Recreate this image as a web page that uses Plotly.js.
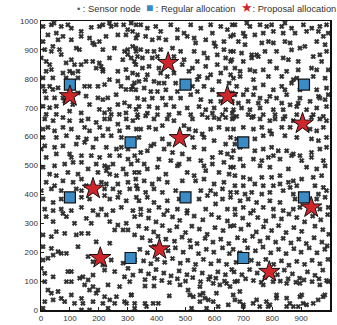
<!DOCTYPE html>
<html><head><meta charset="utf-8">
<script src="https://cdn.plot.ly/plotly-3.0.1.min.js"></script>
<style>html,body{margin:0;padding:0;background:#fff}#c{width:337px;height:325px}</style>
</head><body><div id="c"></div>
<script>
const tickVals = [0,100,200,300,400,500,600,700,800,900,1000];
const tickText = ["0","100","200","300","400","500","600","700","800","900","1000"];

const regularX = [100,500,910,310,700,100,500,910,310,700];
const regularY = [780,780,780,580,580,390,390,390,180,180];

const proposalX = [100,440,645,905,480,180,935,410,205,790];
const proposalY = [740,855,740,645,595,420,355,210,180,132];

const sensorNodes = [
[7,981],[36,987],[45,993],[70,981],[93,987],[105,975],[139,964],[174,978],[202,981],[214,987],[237,993],[243,981],[260,987],[286,987],[300,970],[312,993],[329,987],
[24,952],[53,958],[76,947],[59,935],[7,929],[105,935],[139,947],[168,941],[179,924],[202,929],[225,947],[266,952],[294,952],[317,964],[329,941],
[13,901],[41,912],[36,895],[64,901],[122,906],[133,901],[185,918],[214,901],[254,906],[289,895],[300,901],[317,912],[329,895],
[1,872],[18,860],[30,849],[36,832],[70,884],[87,855],[105,866],[116,849],[139,849],[156,860],[179,860],[202,855],[208,843],[214,832],[237,872],[283,866],[300,884],[312,872],[323,860],
[18,826],[76,820],[99,826],[110,820],[128,826],[191,837],[214,826],[266,826],[294,832],[317,820],
[7,803],[41,803],[87,803],[128,803],[237,797],[266,792],[300,803],[323,786],
[7,774],[30,774],[41,763],[59,769],[151,774],[168,774],[197,774],[220,780],[277,774],[317,774],
[13,757],[18,734],[47,734],[76,734],[128,751],[156,740],[197,734],[214,728],[231,734],[260,745],[294,763],[312,763],
[7,705],[30,700],[53,705],[82,723],[110,711],[168,711],[202,694],[237,694],[266,711],[289,717],[306,705],[329,694],
[18,677],[53,677],[99,688],[139,682],[220,682],[243,677],[271,677],[294,682],
[345,987],[368,975],[397,981],[414,964],[449,987],[472,970],[495,958],[518,987],[553,975],[587,987],[593,958],[622,981],[645,970],[662,987],
[334,952],[362,947],[385,935],[408,941],[432,935],[472,941],[506,947],[530,941],[535,924],[570,935],[599,924],[633,929],[656,947],
[328,906],[345,901],[368,895],[391,895],[414,901],[455,906],[483,895],[530,895],[564,889],[604,912],[633,901],[656,895],
[334,877],[351,872],[385,872],[403,877],[460,877],[495,866],[541,860],[576,872],[610,883],[639,872],[656,860],
[328,849],[351,837],[374,843],[408,837],[489,849],[524,837],[570,843],[610,849],[639,837],
[334,814],[368,814],[414,820],[437,808],[460,820],[512,826],[547,808],[587,814],[622,820],[656,814],
[339,791],[362,797],[391,791],[408,785],[426,785],[466,785],[541,797],[576,803],[616,791],[651,785],
[328,762],[357,768],[380,756],[403,756],[432,762],[472,756],[524,774],[541,756],[564,774],[593,762],[616,745],[662,751],
[334,733],[357,728],[385,733],[420,733],[449,733],[483,733],[518,745],[553,728],[587,722],[622,722],[662,722],
[339,704],[374,704],[403,699],[432,710],[460,704],[506,699],[547,704],[570,693],[599,699],[639,693],
[334,676],[368,681],[403,676],[443,676],[478,681],[518,676],[558,676],[593,681],[628,676],[662,681],
[671,987],[712,993],[723,981],[758,987],[781,981],[798,987],[833,981],[844,993],[867,975],[908,987],[937,975],[965,981],[988,987],
[666,952],[700,958],[706,947],[740,952],[769,958],[804,964],[838,958],[879,958],[919,964],[960,964],[977,947],[994,958],
[683,929],[706,918],[764,924],[787,929],[804,924],[844,929],[862,924],[896,906],[913,912],[954,929],[983,918],
[666,895],[694,889],[729,883],[746,883],[775,895],[815,895],[867,900],[965,883],[988,895],
[660,866],[700,860],[729,872],[752,877],[792,860],[838,872],[856,866],[890,860],[942,877],[971,860],
[671,837],[689,826],[723,831],[740,826],[769,831],[815,837],[850,826],[890,831],[936,837],[954,831],[994,831],
[666,802],[689,808],[735,797],[787,808],[833,808],[873,797],[885,802],[942,808],[983,802],
[677,774],[712,762],[740,768],[769,779],[804,762],[833,774],[844,762],[867,785],[896,762],[954,762],[988,768],
[671,745],[700,745],[735,745],[758,733],[792,739],[815,733],[850,745],[896,733],[960,739],[965,733],[994,745],
[683,716],[717,722],[752,716],[781,722],[833,716],[862,710],[890,716],[931,722],[983,728],
[666,693],[694,699],[723,693],[758,699],[804,693],[838,693],[885,704],[919,693],[954,699],[988,704],
[677,670],[717,676],[735,670],[769,676],[810,676],[844,670],[885,676],[942,676],[977,670],
[13,661],[42,655],[76,666],[99,655],[140,655],[163,661],[191,649],[220,661],[238,661],[266,643],[295,661],[318,655],
[7,626],[24,632],[47,620],[76,632],[105,626],[151,632],[168,620],[203,632],[232,626],[272,620],[301,632],[330,626],
[7,597],[53,597],[88,603],[128,597],[157,592],[191,592],[214,603],[243,603],[278,597],
[1,557],[13,568],[47,563],[76,568],[122,574],[151,580],[180,563],[226,563],[261,557],[278,563],[301,557],
[18,528],[53,540],[99,540],[105,528],[140,534],[174,534],[203,528],[238,534],[272,534],[301,522],[324,534],
[7,494],[47,499],[82,505],[111,511],[140,511],[191,505],[220,499],[232,494],[249,505],[284,488],[312,505],
[30,470],[53,465],[93,476],[128,470],[163,488],[197,476],[226,482],[238,470],[261,465],[295,470],[324,476],
[18,442],[47,430],[76,447],[111,442],[140,453],[157,430],[209,442],[226,436],[266,436],[301,442],[330,430],
[1,413],[36,419],[70,413],[122,419],[140,413],[220,419],[249,419],[272,407],[307,419],
[7,384],[42,372],[70,384],[140,390],[168,384],[220,396],[238,384],[266,390],[295,378],[330,390],
[13,349],[42,344],[70,349],[105,344],[140,355],[180,344],[209,349],[249,344],[278,355],[318,344],
[334,666],[362,672],[391,661],[437,661],[460,655],[524,661],[576,666],[599,666],[616,661],[639,666],[662,661],
[345,626],[374,632],[397,626],[420,638],[495,638],[512,626],[535,620],[558,609],[587,626],[616,632],[645,626],
[339,597],[380,568],[391,574],[420,592],[426,557],[443,574],[524,597],[564,597],[599,586],[639,574],[656,597],
[345,545],[368,551],[455,545],[489,540],[530,563],[564,557],[593,528],[622,545],[645,540],
[334,517],[357,505],[408,522],[449,517],[478,505],[512,522],[553,517],[564,499],[593,505],[633,511],[656,494],
[339,476],[368,488],[403,494],[432,470],[472,499],[506,476],[530,465],[570,482],[616,476],[651,470],
[328,453],[357,447],[385,436],[408,453],[437,442],[489,447],[535,447],[564,453],[599,436],[633,442],
[334,419],[362,407],[391,419],[420,407],[466,413],[553,413],[587,413],[628,419],[656,407],
[339,378],[368,390],[391,372],[437,378],[478,384],[547,384],[576,396],[604,401],[628,384],[656,390],
[345,349],[374,344],[408,355],[437,344],[472,349],[506,344],[570,349],[604,367],[645,349],
[666,666],[729,666],[758,661],[792,655],[810,661],[838,661],[873,655],[936,666],[965,661],[988,655],
[666,626],[700,632],[735,626],[764,632],[792,620],[833,632],[862,632],[931,626],[954,620],[977,632],
[677,592],[671,574],[740,592],[769,603],[798,609],[844,603],[885,597],[936,592],[960,586],[988,597],
[666,551],[689,563],[740,551],[769,557],[798,563],[821,551],[850,551],[873,540],[896,534],[936,545],[965,557],[988,563],
[660,528],[689,522],[735,522],[764,517],[787,528],[804,534],[827,522],[867,534],[902,517],[936,528],[977,517],
[666,494],[700,499],[758,499],[792,494],[856,488],[919,494],[954,488],[983,499],
[671,465],[700,459],[723,453],[764,459],[798,459],[827,465],[856,442],[873,447],[902,453],[942,459],[971,465],
[671,430],[700,430],[740,436],[769,430],[804,430],[827,436],[862,424],[885,430],[948,430],[977,424],
[677,407],[706,401],[729,407],[764,401],[792,407],[838,413],[873,401],[960,401],[988,413],
[689,378],[717,384],[746,372],[792,378],[827,372],[879,384],[954,384],[983,390],
[671,349],[700,355],[735,344],[769,355],[804,349],[838,344],[873,349],[896,355],[965,349],[994,355],
[18,323],[42,306],[76,334],[88,323],[116,300],[157,317],[174,300],[197,329],[226,329],[238,306],[266,294],[295,300],[324,323],
[7,260],[36,254],[53,271],[82,265],[122,260],[140,265],[163,265],[191,236],[238,231],[255,277],[284,277],[301,277],[324,260],
[7,219],[36,213],[59,202],[70,196],[88,196],[128,219],[163,185],[180,167],[214,156],[243,173],[284,162],[301,144],[324,173],
[7,173],[24,179],[42,190],[1,144],[13,127],[42,115],[93,133],[105,133],[134,110],[145,115],[163,104],[180,121],[220,138],[255,133],[289,115],[318,121],
[13,98],[88,98],[105,98],[151,87],[180,81],[197,69],[232,87],[272,81],[307,98],
[24,69],[36,58],[59,64],[70,40],[105,52],[140,40],[168,69],[191,58],[220,46],[238,35],[261,46],[312,52],
[13,29],[42,35],[82,29],[116,23],[145,23],[180,29],[214,23],[255,23],[289,29],[324,23],
[7,6],[140,0],[168,0],[232,6],[324,6],
[360,83],[391,83],[444,49],[481,87],[509,69],[515,52],[527,46],[550,52],[561,58],[567,41],[550,29],[579,35],[596,29],[607,58],[619,87],[642,92],[654,81],
[665,52],[671,35],[688,29],[700,18],[734,23],[746,35],[757,12],[780,29],[792,18],[815,41],[815,52],[850,41],[861,23],[896,46],[902,52],[907,23],[919,18],
[942,23],[959,35],[976,46],[982,52],[994,98],[965,87],[896,92],[850,92],[803,98],[769,87],[688,64],[671,98],[596,92],[550,81],[521,6],[573,6],[613,12],
[648,18],[700,12],[786,12],[850,12],[873,12],[890,12],[360,23],[365,12],[388,23],[406,23],[313,52],[296,23],
[345,330],[372,318],[398,305],[425,330],[455,322],[480,310],[505,335],[530,325],[560,312],[590,330],[615,320],[645,308],
[338,290],[365,282],[390,270],[420,292],[445,275],[470,288],[500,268],[522,290],[548,280],[575,262],[602,285],[630,275],[655,290],
[350,250],[378,240],[405,255],[432,245],[462,238],[488,252],[515,240],[540,230],[568,248],[595,235],[622,245],[650,230],
[342,210],[368,198],[392,220],[440,205],[465,215],[492,200],[518,218],[545,195],[572,210],[598,200],[628,215],[652,195],
[355,170],[380,160],[402,175],[428,165],[455,178],[482,162],[508,172],[535,158],[562,175],[588,160],[615,170],[642,158],
[345,135],[372,125],[398,140],[425,128],[450,118],[478,135],[505,122],[530,140],[558,128],[585,115],[612,132],[638,122],[660,140],
[360,105],[392,110],[418,102],[445,95],[472,108],[500,100],[525,112],[552,98],[580,106],[605,110],[635,100],
[672,330],[698,318],[725,335],[750,320],[778,308],[805,325],[832,315],[858,332],[885,320],[912,305],[940,325],[968,312],[992,330],
[668,292],[692,280],[718,295],[745,270],[770,288],[798,275],[822,292],[848,268],[875,285],[902,272],[948,290],[975,278],[996,262],
[680,250],[705,240],[732,255],[758,238],[785,250],[812,235],[838,248],[865,232],[892,245],[918,230],[945,250],[972,235],[990,222],
[665,210],[688,198],[715,215],[742,205],[768,218],[795,198],[822,210],[848,195],[875,212],[900,200],[928,215],[955,198],[982,210],
[675,165],[728,172],[752,160],[778,175],[805,158],[832,170],[858,155],[885,168],[912,158],[938,172],[965,160],[993,175],
[668,132],[695,122],[722,140],[748,128],[775,112],[818,122],[842,138],[870,125],[895,110],[922,132],[948,120],[975,138],
[680,100],[708,108],[735,102],[762,96],[828,100],[855,108],[882,96],[910,104],[938,98],[962,108],[988,102]
];

const legendText = '<span style="color:#555">•</span> : Sensor node  <span style="color:#3a8cc6;font-size:12px">■</span> : Regular allocation  <span style="color:#d0262b;font-size:13px">★</span>: Proposal allocation';

const sensorX = sensorNodes.map(p => p[0]);
const sensorY = sensorNodes.map(p => p[1]);

const traces = [
  {x: sensorX, y: sensorY, type: 'scatter', mode: 'markers', cliponaxis: true,
   marker: {symbol: 'x', size: 4.2, color: '#333', line: {color: '#1a1a1a', width: 0.6}}},
  {x: regularX, y: regularY, type: 'scatter', mode: 'markers', cliponaxis: false,
   marker: {symbol: 'square', size: 11, color: '#3a8cc6', line: {color: '#111', width: 1.2}}},
  {x: proposalX, y: proposalY, type: 'scatter', mode: 'markers', cliponaxis: false,
   marker: {symbol: 'star', size: 16, color: '#d0262b', line: {color: '#111', width: 1}}}
];

const axisCommon = {
  range: [0, 1000], tickmode: 'array', tickvals: tickVals, ticktext: tickText,
  ticks: 'inside', ticklen: 3, tickcolor: '#222', tickwidth: 1,
  showline: true, linecolor: '#111', linewidth: 1.5, mirror: true,
  showgrid: false, zeroline: false,
  tickfont: {family: 'Liberation Sans, Arial, sans-serif', size: 8, color: '#333'}
};

const layout = {
  width: 337, height: 325,
  margin: {l: 41, r: 7, t: 21, b: 15},
  paper_bgcolor: '#fff', plot_bgcolor: '#fff',
  showlegend: false,
  xaxis: Object.assign({}, axisCommon),
  yaxis: Object.assign({}, axisCommon),
  annotations: [{
    xref: 'paper', yref: 'paper', x: 0.118, y: 1.046, xanchor: 'left', yanchor: 'middle',
    showarrow: false, text: legendText,
    font: {family: 'Liberation Sans, Arial, sans-serif', size: 9.3, color: '#333'}
  }]
};

Plotly.newPlot('c', traces, layout, {displayModeBar: false, staticPlot: true});
</script>
</body></html>
